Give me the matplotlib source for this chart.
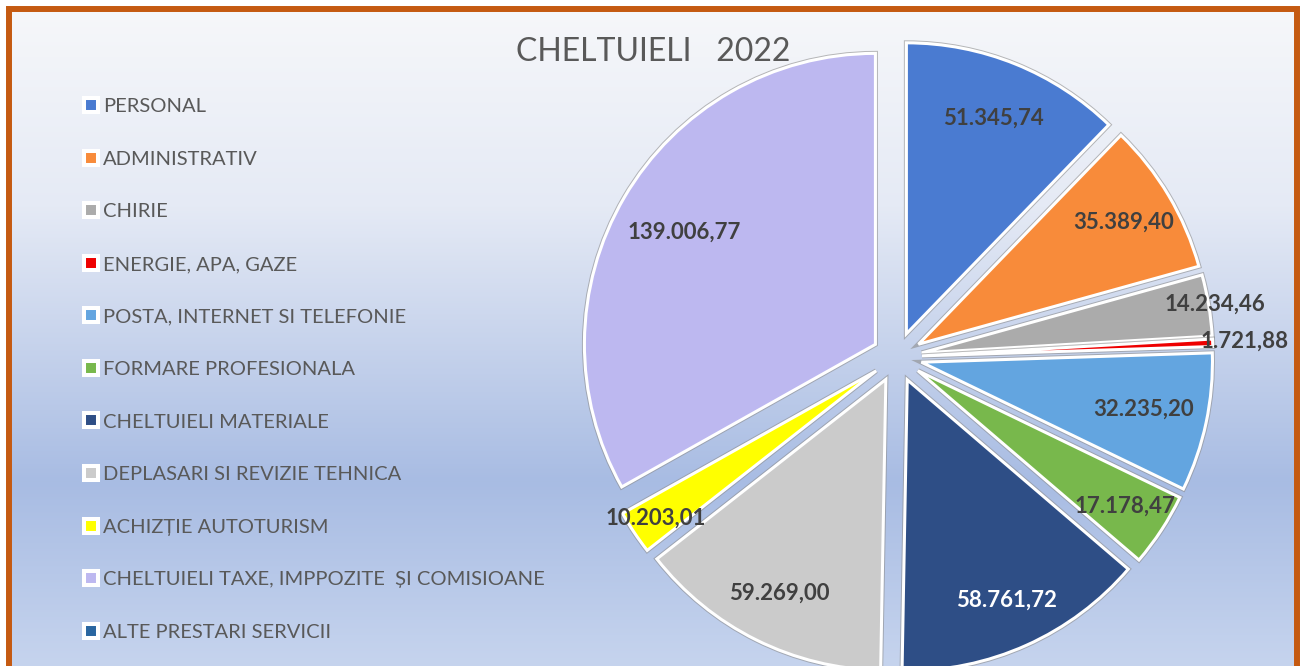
import numpy as np
import matplotlib.pyplot as plt
from matplotlib.lines import Line2D
from matplotlib.patches import Rectangle
import matplotlib.patheffects as pe

plt.rcParams['font.family'] = ['Lato', 'DejaVu Sans']

# data
categories = ['PERSONAL', 'ADMINISTRATIV', 'CHIRIE', 'ENERGIE, APA, GAZE',
              'POSTA, INTERNET SI TELEFONIE', 'FORMARE PROFESIONALA',
              'CHELTUIELI MATERIALE', 'DEPLASARI SI REVIZIE TEHNICA',
              'ACHIZȚIE AUTOTURISM', 'CHELTUIELI TAXE, IMPPOZITE  ȘI COMISIOANE',
              'ALTE PRESTARI SERVICII']
values = [51345.74, 35389.40, 14234.46, 1721.88, 32235.20, 17178.47,
          58761.72, 59269.00, 10203.01, 139006.77, 0.0]
title = 'CHELTUIELI   2022'

# styling
colors = ['#4a7bd1', '#f88b3a', '#ababab', '#ee0000', '#63a5e0', '#78b84c',
          '#2e4e86', '#cbcbcb', '#ffff00', '#bdb8f0', '#2a66a0']
label_colors = ['#404040'] * 6 + ['white'] + ['#404040'] * 4
label_dist = [0.80, 0.82, 1.02, 1.11, 0.78, 0.85, 0.83, 0.82, 0.91, 0.76, 0.8]


def ro_fmt(v):
    s = f'{v:,.2f}'
    return s.replace(',', 'X').replace('.', ',').replace('X', '.')


W, H = 1301, 666
fig = plt.figure(figsize=(W / 100, H / 100), dpi=100)
fig.patch.set_facecolor('white')
ax = fig.add_axes([0, 0, 1, 1])

# background gradient (top -> bottom)
stops = [0.0, 0.3, 0.72, 1.0]
stop_cols = [(0.965, 0.969, 0.980), (0.898, 0.918, 0.961),
             (0.659, 0.737, 0.890), (0.776, 0.831, 0.933)]
ys = np.linspace(0, 1, 400)
grad = np.stack([np.interp(ys, stops, [c[k] for c in stop_cols]) for k in range(3)], axis=-1)
ax.imshow(grad[:, None, :], extent=(9, 1296, 0, 657), aspect='auto', zorder=0)

R = 291
cx, cy = 897, H - 357
wedges, _ = ax.pie(values, colors=colors, startangle=90, counterclock=False,
                   radius=R, center=(cx, cy), explode=[25] * len(values),
                   wedgeprops=dict(edgecolor='white', linewidth=2.2))
for w, v in zip(wedges, values):
    w.set_zorder(2)
    if v == 0:
        w.set_linewidth(0)
    else:
        w.set_path_effects([pe.Stroke(linewidth=3.6, foreground='#8c8c8c', alpha=0.6),
                            pe.Normal()])

for w, v, d, tc in zip(wedges, values, label_dist, label_colors):
    if v == 0:
        continue
    th = np.deg2rad((w.theta1 + w.theta2) / 2)
    x0, y0 = w.center
    ax.text(x0 + d * R * np.cos(th), y0 + d * R * np.sin(th), ro_fmt(v),
            ha='center', va='center', fontsize=16, fontweight='bold', color=tc, zorder=3)

ax.text(653, H - 52, title, ha='center', va='center', fontsize=23, color='#595959', zorder=3)

handles = [Line2D([], [], ls='none', marker='s', ms=10, mfc=c, mec='white', mew=2.9)
           for c in colors]
ax.legend(handles, categories, loc='upper left',
          bbox_to_anchor=(83 / W, (H - 98.2) / H), frameon=False, fontsize=14.5,
          labelcolor='#595959', handlelength=0.78, handletextpad=0.22,
          labelspacing=1.76, borderpad=0, borderaxespad=0)

ax.add_patch(Rectangle((9, -20), 1287.5, 677, fill=False, edgecolor='#c55a11',
                       lw=4.3, zorder=4))

ax.set_xlim(0, W)
ax.set_ylim(0, H)
ax.set_aspect('auto')
ax.axis('off')

fig.savefig('out.png', dpi=100, facecolor='white')
